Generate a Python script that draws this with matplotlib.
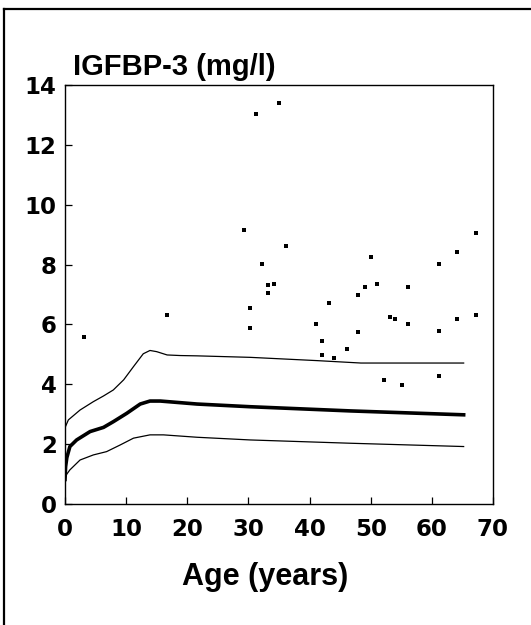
import numpy as np
import matplotlib
matplotlib.use('Agg')
from matplotlib import pyplot as plt
from matplotlib.lines import Line2D

# patients (age, IGFBP-3)
pt_age = [3.1, 16.7, 29.2, 30.3, 30.3, 31.2, 32.2, 33.2, 33.2, 34.2, 35.0, 36.2,
          41.1, 42.1, 42.1, 43.1, 44.0, 46.1, 48.0, 48.0, 49.1, 50.1, 51.0, 52.1,
          53.1, 54.0, 55.1, 56.1, 56.1, 61.1, 61.1, 61.1, 64.1, 64.1, 67.2, 67.2]
pt_val = [5.58, 6.31, 9.15, 6.55, 5.87, 13.03, 8.03, 7.31, 7.05, 7.35, 13.40, 8.61,
          6.03, 5.45, 4.97, 6.70, 4.87, 5.18, 7.00, 5.74, 7.26, 8.26, 7.36, 4.15,
          6.24, 6.17, 3.97, 7.25, 6.03, 8.01, 5.78, 4.29, 8.42, 6.17, 9.07, 6.33]

# reference curves
up_age = [0, 0.55, 2.46, 4.64, 6.3, 7.9, 9.6, 11.2, 12.8, 13.9, 15.0, 16.7, 18.9,
          21.6, 30.3, 41.3, 48.4, 65.2]
up_val = [2.55, 2.81, 3.14, 3.42, 3.61, 3.81, 4.15, 4.59, 5.02, 5.13, 5.09, 4.98, 4.96,
          4.95, 4.90, 4.79, 4.71, 4.71]

mean_age = [0, 0.1, 0.3, 0.8, 1.9, 4.1, 6.3, 7.9, 10.1, 12.3, 13.9, 15.6, 21.6,
            30.3, 46.7, 65.2]
mean_val = [0.82, 1.25, 1.55, 1.92, 2.14, 2.42, 2.56, 2.75, 3.03, 3.34, 3.44, 3.44, 3.34,
            3.25, 3.11, 2.98]

lo_age = [0, 0.3, 0.8, 2.46, 4.64, 6.8, 9.0, 11.2, 13.9, 16.1, 21.6, 30.3, 46.7, 65.2]
lo_val = [0.85, 1.0, 1.14, 1.47, 1.64, 1.75, 1.97, 2.20, 2.31, 2.31, 2.23, 2.14, 2.03, 1.92]

plt.rcParams['font.family'] = ['Liberation Sans', 'DejaVu Sans']

fig = plt.figure(figsize=(5.31, 6.25), dpi=100)
ax = fig.add_axes([65/531, 1-504/625, 428/531, 419/625])

ax.plot(up_age, up_val, color='black', lw=0.9, solid_joinstyle='round')
ax.plot(mean_age, mean_val, color='black', lw=2.6, solid_joinstyle='round')
ax.plot(lo_age, lo_val, color='black', lw=0.9, solid_joinstyle='round')
ax.plot(pt_age, pt_val, 's', color='black', ms=3.2, mew=0)

ax.set_xlim(0, 70)
ax.set_ylim(0, 14)
ax.set_xticks(range(0, 71, 10))
ax.set_yticks(range(0, 15, 2))
ax.tick_params(direction='in', length=5, width=0.9)
ax.tick_params(axis='x', pad=10)
ax.tick_params(axis='y', pad=6)
for lab in ax.get_xticklabels() + ax.get_yticklabels():
    lab.set_fontweight('bold')
    lab.set_fontfamily('DejaVu Sans')
    lab.set_fontsize(16.5)
for s in ax.spines.values():
    s.set_linewidth(1.0)

ax.set_xlabel('Age (years)', fontsize=22, fontweight='bold', labelpad=15)
ax.xaxis.label.set_x(0.467)
fig.text(73/531, 1-75/625, 'IGFBP-3 (mg/l)', fontsize=21, fontweight='bold',
         ha='left', va='baseline')

# outer frame
fig.add_artist(Line2D([4/531, 4/531], [0, 1-9/625], color='black', lw=1.6,
                      transform=fig.transFigure))
fig.add_artist(Line2D([4/531, 1], [1-9/625, 1-9/625], color='black', lw=1.6,
                      transform=fig.transFigure))

fig.savefig('out.png', dpi=100)
